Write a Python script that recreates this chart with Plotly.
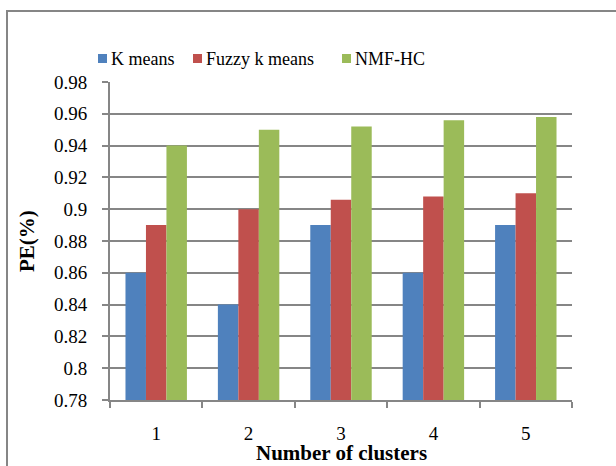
import plotly.graph_objects as go

clusters = ["1", "2", "3", "4", "5"]
kmeans = [0.86, 0.84, 0.89, 0.86, 0.89]
fuzzy = [0.89, 0.90, 0.906, 0.908, 0.91]
nmfhc = [0.94, 0.95, 0.952, 0.956, 0.958]
series_names = ["K means", "Fuzzy k means", "NMF-HC"]
colors = ["#4F81BD", "#C0504D", "#9BBB59"]
y_ticks = [0.78, 0.80, 0.82, 0.84, 0.86, 0.88, 0.90, 0.92, 0.94, 0.96, 0.98]
y_tick_text = ["0.78", "0.8", "0.82", "0.84", "0.86", "0.88", "0.9", "0.92", "0.94", "0.96", "0.98"]
x_title = "Number of clusters"
y_title = "PE(%)"

FONT = "Liberation Serif"
GRID = "#868686"
W, H = 616, 466
ML, MR, MT, MB = 110, 44, 82, 66
PW, PH = W - ML - MR, H - MT - MB


def px_x(p):
    # page pixel -> paper coordinate
    return (p - ML) / PW


def px_y(p):
    return (H - MB - p) / PH


fig = go.Figure()
for name, vals, col in zip(series_names, [kmeans, fuzzy, nmfhc], colors):
    fig.add_trace(go.Bar(x=clusters, y=vals, name=name, marker_color=col,
                         marker_line_width=0, showlegend=False))

fig.update_layout(
    width=W, height=H,
    margin=dict(l=ML, r=MR, t=MT, b=MB),
    paper_bgcolor="white", plot_bgcolor="white",
    barmode="group", bargap=0.335, bargroupgap=0,
    font=dict(family=FONT, size=18, color="black"),
    showlegend=False,
    xaxis=dict(
        automargin=False,
        showline=True, linecolor=GRID, linewidth=2,
        ticks="outside", tickson="boundaries", ticklen=6, tickcolor=GRID, tickwidth=2,
        ticklabelstandoff=15,
        tickfont=dict(family=FONT, size=19),
        showgrid=False,
    ),
    yaxis=dict(
        automargin=False,
        range=[0.78, 0.98], tickvals=y_ticks, ticktext=y_tick_text,
        showline=True, linecolor=GRID, linewidth=2,
        ticks="outside", ticklen=6, tickcolor=GRID, tickwidth=2,
        ticklabelstandoff=11,
        showgrid=True, gridcolor=GRID, gridwidth=2,
        zeroline=False,
        tickfont=dict(family=FONT, size=19),
    ),
)

# axis titles
fig.add_annotation(text="<b>%s</b>" % x_title, xref="paper", yref="paper",
                   x=px_x(341), y=px_y(453), xanchor="center", yanchor="middle",
                   showarrow=False, font=dict(family=FONT, size=21, color="black"))
fig.add_annotation(text="<b>%s</b>" % y_title, xref="paper", yref="paper",
                   x=px_x(27), y=px_y(241), xanchor="center", yanchor="middle",
                   textangle=-90, showarrow=False, font=dict(family=FONT, size=21, color="black"))

# legend (Excel style: small square + label)
sym_left = [98, 193, 342]
text_left = [110, 205, 354]
for name, col, sx, tx in zip(series_names, colors, sym_left, text_left):
    fig.add_shape(type="rect", xref="paper", yref="paper",
                  x0=px_x(sx), x1=px_x(sx + 9), y0=px_y(63), y1=px_y(54),
                  line=dict(width=0), fillcolor=col)
    fig.add_annotation(text=name, xref="paper", yref="paper",
                       x=px_x(tx - 1), y=px_y(59), xanchor="left", yanchor="middle",
                       showarrow=False, font=dict(family=FONT, size=18, color="black"))

# chart-area border (Excel style)
fig.add_shape(type="rect", xref="paper", yref="paper",
              x0=px_x(7), x1=px_x(640), y0=px_y(490), y1=px_y(11),
              line=dict(color=GRID, width=2), fillcolor="rgba(0,0,0,0)", layer="below")

fig.write_html("out.html",
               config={"displayModeBar": False},
               post_script="document.body.style.margin='0px';document.body.style.overflow='hidden';")
